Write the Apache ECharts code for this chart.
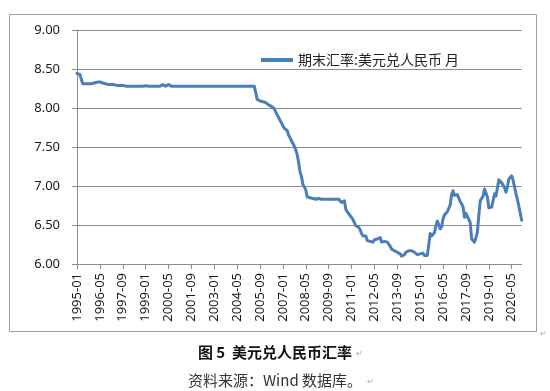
<!DOCTYPE html>
<html><head><meta charset="utf-8">
<script src="https://cdn.jsdelivr.net/npm/echarts@6/dist/echarts.min.js"></script>
<style>html,body{margin:0;padding:0;background:#fff}#c{width:550px;height:391px}</style>
</head><body><div id="c"></div><script>
// USD/CNY month-end rate, 1995-01 .. 2020-12
const startYear = 1995;
const y1995 = [8.445, 8.44, 8.43, 8.42, 8.31, 8.30, 8.31, 8.32, 8.31, 8.32, 8.31, 8.32];
const y1996 = [8.32, 8.32, 8.33, 8.33, 8.335, 8.33, 8.32, 8.31, 8.31, 8.30, 8.30, 8.30];
const y1997 = [8.30, 8.30, 8.30, 8.29, 8.29, 8.29, 8.29, 8.29, 8.29, 8.285, 8.28, 8.28];
const y1998 = [8.28, 8.28, 8.28, 8.28, 8.28, 8.28, 8.28, 8.28, 8.28, 8.28, 8.28, 8.28];
const y1999 = [8.285, 8.28, 8.28, 8.28, 8.28, 8.28, 8.28, 8.28, 8.28, 8.28, 8.28, 8.28];
const y2000 = [8.30, 8.28, 8.28, 8.28, 8.30, 8.28, 8.28, 8.28, 8.28, 8.28, 8.28, 8.28];
const y2001 = [8.28, 8.28, 8.28, 8.28, 8.28, 8.28, 8.28, 8.28, 8.28, 8.28, 8.28, 8.28];
const y2002 = [8.28, 8.28, 8.28, 8.28, 8.28, 8.28, 8.28, 8.28, 8.28, 8.28, 8.28, 8.28];
const y2003 = [8.28, 8.28, 8.28, 8.28, 8.28, 8.28, 8.28, 8.28, 8.28, 8.28, 8.28, 8.28];
const y2004 = [8.28, 8.28, 8.28, 8.28, 8.28, 8.28, 8.28, 8.28, 8.28, 8.28, 8.28, 8.28];
const y2005 = [8.28, 8.28, 8.28, 8.28, 8.28, 8.28, 8.11, 8.10, 8.09, 8.08, 8.08, 8.07];
const y2006 = [8.07, 8.05, 8.04, 8.02, 8.02, 8.00, 7.99, 7.97, 7.91, 7.88, 7.84, 7.81];
const y2007 = [7.77, 7.74, 7.73, 7.71, 7.65, 7.62, 7.58, 7.57, 7.51, 7.46, 7.40, 7.30];
const y2008 = [7.18, 7.12, 7.02, 6.99, 6.95, 6.86, 6.84, 6.85, 6.83, 6.84, 6.83, 6.83];
const y2009 = [6.84, 6.84, 6.83, 6.83, 6.83, 6.83, 6.83, 6.83, 6.83, 6.83, 6.83, 6.83];
const y2010 = [6.83, 6.83, 6.83, 6.83, 6.83, 6.79, 6.77, 6.81, 6.70, 6.67, 6.68, 6.62];
const y2011 = [6.60, 6.57, 6.56, 6.49, 6.48, 6.47, 6.44, 6.39, 6.36, 6.34, 6.36, 6.30];
const y2012 = [6.31, 6.29, 6.29, 6.28, 6.31, 6.32, 6.32, 6.34, 6.34, 6.28, 6.29, 6.29];
const y2013 = [6.28, 6.28, 6.27, 6.23, 6.19, 6.17, 6.17, 6.17, 6.15, 6.14, 6.13, 6.10];
const y2014 = [6.10, 6.12, 6.15, 6.16, 6.17, 6.15, 6.17, 6.16, 6.15, 6.14, 6.12, 6.12];
const y2015 = [6.13, 6.14, 6.14, 6.11, 6.12, 6.11, 6.12, 6.39, 6.36, 6.34, 6.40, 6.49];
const y2016 = [6.55, 6.53, 6.45, 6.48, 6.58, 6.63, 6.64, 6.67, 6.67, 6.76, 6.89, 6.94];
const y2017 = [6.88, 6.87, 6.89, 6.90, 6.80, 6.77, 6.73, 6.60, 6.65, 6.61, 6.61, 6.53];
const y2018 = [6.32, 6.33, 6.28, 6.34, 6.41, 6.62, 6.81, 6.82, 6.87, 6.96, 6.94, 6.86];
const y2019 = [6.72, 6.70, 6.73, 6.73, 6.90, 6.87, 6.88, 7.08, 7.07, 7.04, 7.03, 6.98];
const y2020 = [6.92, 6.99, 7.09, 7.07, 7.13, 7.07, 6.99, 6.90, 6.83, 6.74, 6.65, 6.56];

const yearly = [y1995, y1996, y1997, y1998, y1999, y2000, y2001, y2002, y2003, y2004, y2005, y2006, y2007,
  y2008, y2009, y2010, y2011, y2012, y2013, y2014, y2015, y2016, y2017, y2018, y2019, y2020];
const values = [].concat(...yearly);
const categories = [];
yearly.forEach((arr, i) => arr.forEach((v, m) => categories.push((startYear + i) + '-' + String(m + 1).padStart(2, '0'))));

const seriesName = '期末汇率:美元兑人民币 月';
const captionTitle = '图 5  美元兑人民币汇率';
const captionSource = '资料来源：Wind 数据库。';

const gridColor = '#8c8c8c';
const chart = echarts.init(document.getElementById('c'), null, {renderer: 'canvas'});
chart.setOption({
  animation: false,
  backgroundColor: '#fff',
  grid: {left: 77, right: 28.3, top: 30, bottom: 127, containLabel: false},
  legend: {
    data: [seriesName], left: 261, top: 53, padding: 0,
    icon: 'rect', itemWidth: 32, itemHeight: 4,
    textStyle: {fontSize: 14, fontFamily: 'Noto Sans CJK SC', color: '#222'}
  },
  xAxis: {
    type: 'category', data: categories, boundaryGap: false,
    axisLine: {lineStyle: {color: gridColor, width: 1}},
    axisTick: {show: true, interval: 15, length: 5, lineStyle: {color: gridColor}},
    axisLabel: {interval: 15, rotate: 90, fontSize: 13, fontFamily: 'Noto Sans', color: '#1a1a1a', margin: 9}
  },
  yAxis: {
    type: 'value', min: 6, max: 9, interval: 0.5,
    axisLine: {show: true, lineStyle: {color: gridColor}},
    axisTick: {show: true, length: 5, lineStyle: {color: gridColor}},
    splitLine: {lineStyle: {color: gridColor, width: 1}},
    axisLabel: {formatter: v => v.toFixed(2), fontSize: 13, fontFamily: 'Noto Sans', color: '#1a1a1a', margin: 17}
  },
  series: [{
    name: seriesName, type: 'line', data: values, showSymbol: false, symbol: 'none',
    lineStyle: {color: '#4A7EBB', width: 3, join: 'round', cap: 'round'},
    itemStyle: {color: '#4A7EBB'}
  }],
  graphic: [
    {type: 'rect', shape: {x: 9.5, y: 14.5, width: 527, height: 317}, style: {fill: 'none', stroke: '#a0a0a0', lineWidth: 1}, silent: true, z: -1},
    {type: 'text', x: 275, y: 352, style: {text: captionTitle, fontSize: 15, fontWeight: 'bold', fontFamily: 'Noto Sans CJK SC', fill: '#111', align: 'center', verticalAlign: 'middle'}},
    {type: 'text', x: 275, y: 380, style: {text: captionSource, fontSize: 15, fontFamily: 'Noto Sans CJK SC', fill: '#333', align: 'center', verticalAlign: 'middle'}},
    {type: 'text', x: 356, y: 354, style: {text: '↵', fontSize: 8, fill: '#aaa', verticalAlign: 'middle'}},
    {type: 'text', x: 367, y: 382, style: {text: '↵', fontSize: 8, fill: '#aaa', verticalAlign: 'middle'}},
    {type: 'text', x: 540, y: 334, style: {text: '↵', fontSize: 8, fill: '#aaa', verticalAlign: 'middle'}}
  ]
});
</script></body></html>
